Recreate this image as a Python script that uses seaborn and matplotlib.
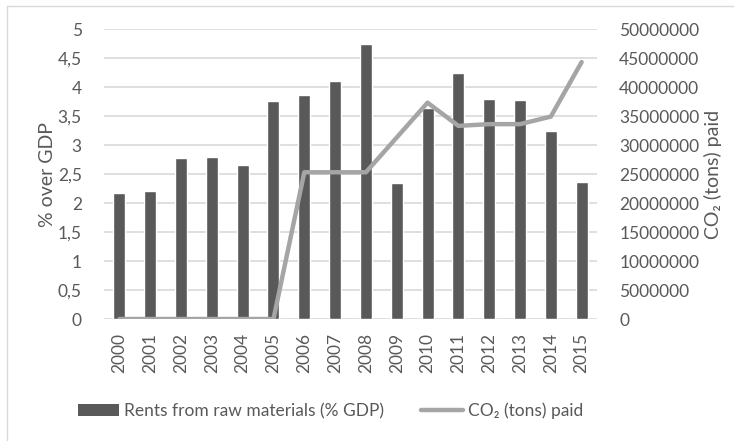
import numpy as np
import pandas as pd
import matplotlib
matplotlib.use("Agg")
import matplotlib.pyplot as plt
from matplotlib.lines import Line2D
from matplotlib.ticker import FuncFormatter, MultipleLocator
import seaborn as sns

years = [str(y) for y in range(2000, 2016)]
rents_pct_gdp = [2.18, 2.21, 2.78, 2.79, 2.66, 3.76, 3.87, 4.10, 4.75,
                 2.35, 3.63, 4.24, 3.79, 3.77, 3.25, 2.37]
co2_tons_paid = [0, 0, 0, 0, 0, 0, 25300000, 25300000, 25300000,
                 31300000, 37300000, 33300000, 33600000, 33600000,
                 34900000, 44300000]

bar_label = "Rents from raw materials (% GDP)"
line_label = "CO\u2082 (tons) paid"

TEXT = "#595959"
BAR = "#595959"
LINE = "#a5a5a5"
GRID = "#d9d9d9"

sns.set_theme(style="white")
plt.rcParams["font.family"] = ["Lato", "DejaVu Sans"]
plt.rcParams["text.color"] = TEXT

df = pd.DataFrame({"year": years, "rents": rents_pct_gdp, "co2": co2_tons_paid})

fig = plt.figure(figsize=(7.34, 4.41), dpi=100)
ax = fig.add_axes([0.1417, 0.2766, 0.6717, 0.6576])

sns.barplot(data=df, x="year", y="rents", color=BAR, saturation=1,
            width=0.39, ax=ax, zorder=2)
ax.set_xlim(-0.5, len(years) - 0.5)
ax.set_ylim(0, 5)
ax.yaxis.set_major_locator(MultipleLocator(0.5))
ax.yaxis.set_major_formatter(
    FuncFormatter(lambda v, _: f"{v:g}".replace(".", ",")))
ax.grid(axis="y", color=GRID, linewidth=1.2, zorder=0)
ax.set_axisbelow(True)
for s in ax.spines.values():
    s.set_visible(False)
ax.tick_params(axis="both", length=0, labelsize=12.5, colors=TEXT)
ax.tick_params(axis="y", pad=16)
ax.tick_params(axis="x", pad=10)
plt.setp(ax.get_xticklabels(), rotation=90)
ax.set_xlabel("")
ax.set_ylabel("% over GDP", fontsize=14, color=TEXT, labelpad=1)

ax2 = ax.twinx()
sns.lineplot(x=np.arange(len(years)), y=co2_tons_paid, color=LINE,
             linewidth=3.2, ax=ax2, zorder=3)
ax2.set_ylim(0, 50000000)
ax2.yaxis.set_major_locator(MultipleLocator(5000000))
ax2.yaxis.set_major_formatter(FuncFormatter(lambda v, _: f"{int(v)}"))
for s in ax2.spines.values():
    s.set_visible(False)
ax2.tick_params(axis="y", length=0, labelsize=12.5, colors=TEXT, pad=16)
ax2.set_ylabel(line_label, fontsize=14, color=TEXT, labelpad=3)
ax2.grid(False)

handles = [
    plt.Rectangle((0, 0), 1, 1, facecolor=BAR, edgecolor="none"),
    Line2D([0], [0], color=LINE, linewidth=3.2),
]
fig.legend(handles, [bar_label, line_label], loc="center",
           bbox_to_anchor=(0.45, 0.068), ncol=2, frameon=False,
           fontsize=12.5, handlelength=2.4, handleheight=0.66,
           handletextpad=0.3, columnspacing=2.1, labelcolor=TEXT)

# thin frame along the top and left edges
fig.add_artist(Line2D([7 / 734, 7 / 734], [0, 1 - 6 / 441],
                      transform=fig.transFigure, color=GRID, linewidth=1))
fig.add_artist(Line2D([7 / 734, 1], [1 - 6 / 441, 1 - 6 / 441],
                      transform=fig.transFigure, color=GRID, linewidth=1))

fig.savefig("out.png", dpi=100)
